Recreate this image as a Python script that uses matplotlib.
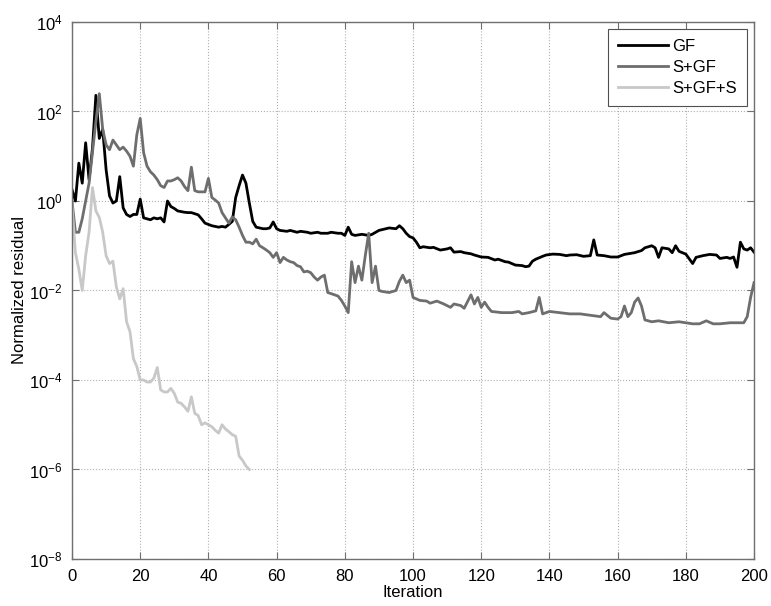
import numpy as np
import matplotlib
matplotlib.use("Agg")
import matplotlib.pyplot as plt
from matplotlib.ticker import LogLocator, NullLocator

# iteration / normalized residual
gf_it = [0, 1, 2, 3, 4, 5, 6, 7, 8, 9, 10, 11, 12, 13, 14, 15, 16, 17, 18, 19,
         20, 21, 22, 23, 24, 25, 26, 27, 28, 29, 30, 31, 32, 33, 34, 35, 36, 37, 38, 39,
         40, 41, 42, 43, 44, 45, 46, 47, 48, 49, 50, 51, 52, 53, 54, 55, 56, 57, 58, 59,
         60, 61, 63, 64, 66, 67, 69, 70, 72, 73, 75, 76, 78, 79, 80, 81, 82, 83, 85, 87, 88, 90, 92, 93, 95, 96, 97, 98, 99,
         100, 101, 102, 103, 105, 106, 108, 110, 111, 112, 114, 115, 117, 118, 120, 122, 124, 125, 127, 128, 130, 132, 133,
         134, 135, 136, 138, 139, 141, 143, 145, 146, 148, 150, 152, 153, 154, 156, 158, 160, 162, 163, 165, 167, 168, 170,
         171, 172, 173, 175, 176, 177, 178, 180, 182, 183, 185, 187, 189, 190, 192, 193, 194, 195, 196,
         197, 198, 199, 200]
gf_val = [1.8, 1.0, 7.0, 2.5, 20, 3.0, 15, 230, 25, 40, 5.0, 1.3, 0.9, 1.0, 3.5, 0.7, 0.5, 0.45, 0.5, 0.5,
          1.1, 0.42, 0.4, 0.38, 0.42, 0.4, 0.42, 0.34, 1.0, 0.75, 0.68, 0.6, 0.58, 0.56, 0.55, 0.55, 0.52, 0.49, 0.4, 0.32,
          0.3, 0.28, 0.27, 0.26, 0.27, 0.26, 0.3, 0.35, 1.2, 2.2, 3.8, 2.5, 0.9, 0.35, 0.26, 0.25, 0.24, 0.24, 0.25, 0.34,
          0.24, 0.22, 0.21, 0.22, 0.2, 0.21, 0.2, 0.19, 0.2, 0.19, 0.19, 0.2, 0.19, 0.19, 0.17, 0.26, 0.18, 0.17, 0.18, 0.17, 0.18, 0.22, 0.24, 0.25, 0.24, 0.28, 0.24, 0.19, 0.16,
          0.15, 0.12, 0.09, 0.095, 0.09, 0.092, 0.08, 0.085, 0.09, 0.072, 0.074, 0.07, 0.066, 0.062, 0.056, 0.055, 0.048, 0.05, 0.044, 0.043, 0.037, 0.036, 0.034,
          0.035, 0.045, 0.05, 0.058, 0.062, 0.065, 0.064, 0.06, 0.062, 0.063, 0.058, 0.06, 0.135, 0.062, 0.06, 0.056, 0.056, 0.064, 0.066, 0.07, 0.078, 0.09, 0.1,
          0.09, 0.055, 0.09, 0.085, 0.07, 0.1, 0.075, 0.065, 0.04, 0.055, 0.06, 0.064, 0.062, 0.052, 0.055, 0.052, 0.056, 0.033, 0.12,
          0.085, 0.08, 0.09, 0.072]

sgf_it = [0, 1, 2, 3, 4, 5, 6, 7, 8, 9, 10, 11, 12, 13, 14, 15, 16, 17, 18, 19,
          20, 21, 22, 23, 24, 25, 26, 27, 28, 29, 30, 31, 32, 33, 34, 35, 36, 37, 38, 39,
          40, 41, 42, 43, 44, 45, 46, 47, 48, 49, 50, 51, 52, 53, 54, 55, 56, 57, 58, 59,
          60, 61, 62, 63, 64, 65, 66, 67, 68, 69, 70, 71, 72, 73, 74, 75, 76, 77, 78, 79,
          80, 81, 82, 83, 84, 85, 86, 87, 88, 89, 90, 91, 93, 95, 96, 97, 98, 99,
          100, 102, 104, 105, 107, 109, 111, 112, 114, 115, 117, 118, 119, 120, 121, 122, 123,
          126, 129, 131, 132, 134, 136, 137, 138, 140, 143, 146, 149, 152, 155, 156, 158,
          160, 161, 162, 163, 164, 165, 166, 167, 168, 170, 172, 175, 178, 180, 182, 184, 186, 188, 190, 193, 195,
          197, 198, 199, 200]
sgf_val = [1.0, 0.2, 0.2, 0.4, 1.0, 2.5, 12, 60, 250, 40, 18, 14, 23, 18, 14, 16, 13, 10, 6.0, 30,
           70, 12, 6.0, 4.5, 3.8, 3.0, 2.2, 2.0, 2.8, 2.8, 3.0, 3.3, 2.8, 2.1, 1.7, 5.7, 1.7, 1.6, 1.6, 1.6,
           3.2, 1.2, 1.05, 0.9, 0.55, 0.42, 0.32, 0.44, 0.38, 0.26, 0.17, 0.12, 0.12, 0.11, 0.14, 0.1, 0.09, 0.08, 0.07, 0.055,
           0.07, 0.042, 0.055, 0.048, 0.044, 0.042, 0.036, 0.034, 0.026, 0.027, 0.025, 0.02, 0.017, 0.02, 0.022, 0.009, 0.0085, 0.008, 0.0075, 0.006,
           0.0045, 0.0032, 0.044, 0.015, 0.035, 0.017, 0.06, 0.19, 0.015, 0.035, 0.01, 0.0095, 0.009, 0.01, 0.016, 0.022, 0.015, 0.017,
           0.007, 0.006, 0.0058, 0.0052, 0.0058, 0.005, 0.0042, 0.005, 0.0046, 0.004, 0.008, 0.005, 0.007, 0.0042, 0.0055, 0.0042, 0.0034,
           0.0032, 0.0032, 0.0034, 0.003, 0.0032, 0.0035, 0.007, 0.003, 0.0034, 0.0032, 0.003, 0.003, 0.0028, 0.0026, 0.0032, 0.0024,
           0.0023, 0.0026, 0.0045, 0.0026, 0.0032, 0.0055, 0.0068, 0.0045, 0.0022, 0.002, 0.0021, 0.0019, 0.002, 0.0019, 0.0018, 0.0018, 0.0021, 0.0018, 0.0018, 0.0019, 0.0019,
           0.0019, 0.0026, 0.007, 0.015]

sgfs_it = [0, 1, 2, 3, 4, 5, 6, 7, 8, 9, 10, 11, 12, 13, 14, 15, 16, 17, 18, 19,
           20, 21, 22, 23, 24, 25, 26, 27, 28, 29, 30, 31, 32, 33, 34, 35, 36, 37, 38, 39,
           40, 41, 42, 43, 44, 45, 46, 47, 48, 49, 50, 51, 52]
sgfs_val = [0.8, 0.07, 0.03, 0.01, 0.06, 0.2, 2.0, 0.6, 0.43, 0.2, 0.06, 0.04, 0.045, 0.012, 0.0065, 0.011, 0.002, 0.0012, 0.0003, 0.0002,
            1.0e-4, 1.0e-4, 9e-5, 9e-5, 1.1e-4, 1.9e-4, 6e-5, 5.4e-5, 5.4e-5, 6.5e-5, 5e-5, 3.2e-5, 3e-5, 2.5e-5, 2e-5, 4.2e-5, 1.8e-5, 1.6e-5, 1.0e-5, 1.1e-5,
            1.0e-5, 9e-6, 7.5e-6, 6.5e-6, 1.0e-5, 8e-6, 7e-6, 6e-6, 5.5e-6, 2e-6, 1.6e-6, 1.2e-6, 1.0e-6]

plt.rcParams['font.family'] = ['Liberation Sans', 'DejaVu Sans']
plt.rcParams['font.size'] = 12
plt.rcParams['mathtext.fontset'] = 'custom'
plt.rcParams['mathtext.rm'] = 'Liberation Sans'
plt.rcParams['mathtext.it'] = 'Liberation Sans'

fig = plt.figure(figsize=(7.71, 6.06), dpi=100)
ax = fig.add_axes([0.0934, 0.0776, 0.8846, 0.8861])

ax.semilogy(gf_it, gf_val, color="black", lw=2.0, label="GF")
ax.semilogy(sgf_it, sgf_val, color="#6e6e6e", lw=2.0, label="S+GF")
ax.semilogy(sgfs_it, sgfs_val, color="#c8c8c8", lw=2.0, label="S+GF+S")

ax.set_xlim(0, 200)
ax.set_ylim(1e-8, 1e4)
ax.set_xticks(np.arange(0, 201, 20))
ax.yaxis.set_major_locator(LogLocator(base=100.0))
ax.yaxis.set_minor_locator(NullLocator())
ax.grid(True, which="major", color="#b0b0b0", linestyle=":", linewidth=0.8)

for s in ax.spines.values():
    s.set_color("#707070")
    s.set_linewidth(1.0)
ax.tick_params(direction="in", length=5, width=0.8, color="#707070",
               top=True, right=True, labelsize=12, pad=7)

ax.set_xlabel("Iteration", fontsize=12, labelpad=1)
ax.set_ylabel("Normalized residual", fontsize=12, labelpad=1)

leg = ax.legend(loc="upper right", bbox_to_anchor=(1 - 7 / 682, 1 - 7 / 537),
                borderaxespad=0, borderpad=0.6, fancybox=False, framealpha=1, edgecolor="#505050",
                handlelength=3.0, handletextpad=0.25, labelspacing=0.35, fontsize=12)
leg.get_frame().set_linewidth(0.8)

fig.savefig("out.png", dpi=100)
